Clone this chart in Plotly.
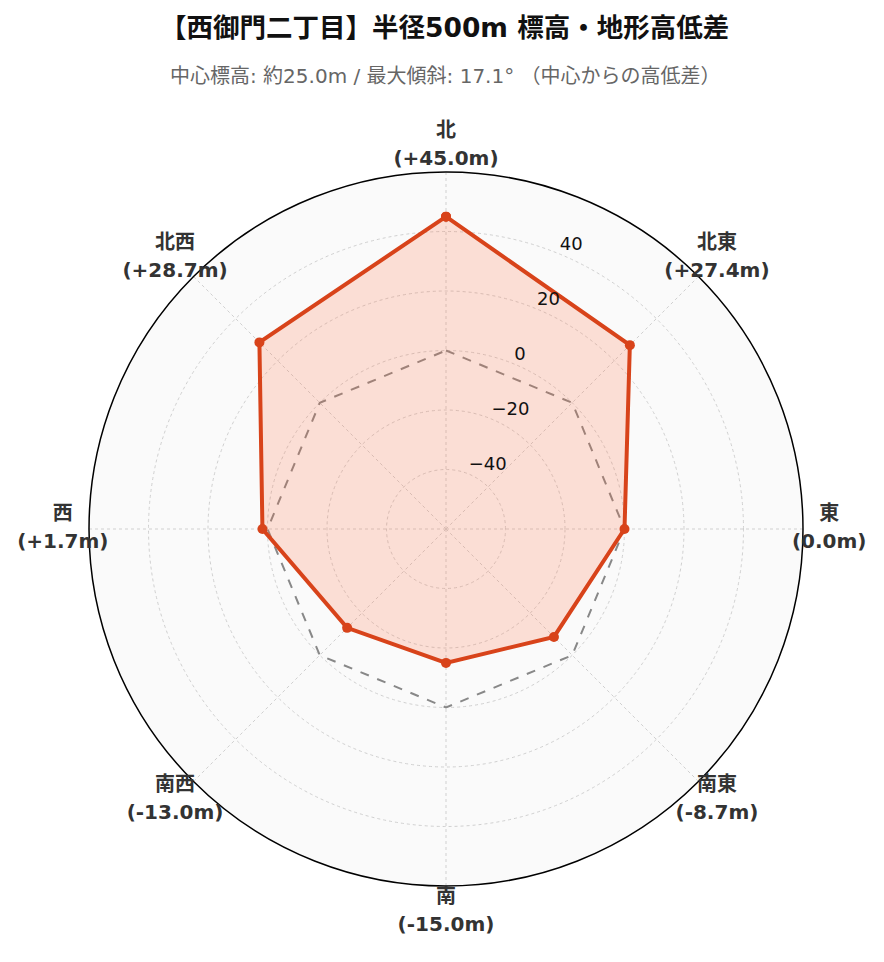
import plotly.graph_objects as go

directions = ["北", "北東", "東", "南東", "南", "南西", "西", "北西"]
angles = [0, 45, 90, 135, 180, 225, 270, 315]
elev_diff = [45.0, 27.4, 0.0, -8.7, -15.0, -13.0, 1.7, 28.7]
baseline = [0, 0, 0, 0, 0, 0, 0, 0]
radial_ticks = [-40, -20, 0, 20, 40]
radial_tick_labels = ["−40", "−20", "0", "20", "40"]
radial_range = [-60, 60]
radial_label_angle = 22.5
label_r = 68.8

def fmt(v):
    return f"+{v:.1f}m" if v > 0 else f"{v:.1f}m"

name_text = [f"<b>{d}</b>" for d in directions]
value_text = [f"<b>({fmt(v)})</b>" for v in elev_diff]

FONT = "DejaVu Sans, Noto Sans CJK JP, sans-serif"
W, H = 884, 962
CX, CY = 438, 521        # polar centre (px from top-left of the figure)
R1 = 357                 # main polar radius (px)
R2 = 400                 # outer helper polar radius for the direction labels
px_per_unit = R1 / (radial_range[1] - radial_range[0])
outer_range = [radial_range[0], radial_range[0] + R2 / px_per_unit]

def dom(r):
    return dict(x=[(CX - r) / W, (CX + r) / W],
                y=[(H - CY - r) / H, (H - CY + r) / H])

fig = go.Figure()
fig.add_trace(go.Scatterpolar(
    r=baseline + baseline[:1], theta=angles + angles[:1], mode="lines",
    line=dict(color="#888888", width=2, dash="dash"),
    hoverinfo="skip", showlegend=False,
))
fig.add_trace(go.Scatterpolar(
    r=elev_diff + elev_diff[:1], theta=angles + angles[:1], mode="lines+markers",
    fill="toself", fillcolor="rgba(255,112,67,0.2)",
    line=dict(color="#d8431a", width=4),
    marker=dict(color="#d8431a", size=10),
    showlegend=False,
))
fig.add_trace(go.Scatterpolar(
    r=radial_ticks, theta=[radial_label_angle] * len(radial_ticks),
    mode="text", text=radial_tick_labels, textposition="top right",
    textfont=dict(family="DejaVu Sans", size=18, color="#111111"),
    hoverinfo="skip", showlegend=False,
))
# direction labels, drawn on a larger transparent polar with the same scale
for txt, pos in ((name_text, "top center"), (value_text, "bottom center")):
    fig.add_trace(go.Scatterpolar(
        r=[label_r] * len(angles), theta=angles, mode="markers+text",
        subplot="polar2", text=txt, textposition=pos, cliponaxis=False,
        marker=dict(size=5, opacity=0),
        textfont=dict(family=FONT, size=20, color="#333333"),
        hoverinfo="skip", showlegend=False,
    ))

fig.update_layout(
    width=W, height=H,
    paper_bgcolor="white",
    font=dict(family=FONT),
    margin=dict(l=0, r=0, t=0, b=0),
    showlegend=False,
    polar=dict(
        domain=dom(R1),
        bgcolor="#fafafa",
        radialaxis=dict(
            range=radial_range, tickvals=radial_ticks, angle=67.5,
            showline=False, showticklabels=False,
            gridcolor="#d0d0d0", griddash="dot", gridwidth=1,
            ticks="",
        ),
        angularaxis=dict(
            direction="clockwise", rotation=90,
            tickmode="array", tickvals=angles, showticklabels=False,
            linecolor="#000000", linewidth=1.5,
            gridcolor="#d0d0d0", griddash="dot", ticks="",
        ),
    ),
    polar2=dict(
        domain=dom(R2),
        bgcolor="rgba(0,0,0,0)",
        radialaxis=dict(range=outer_range, visible=False, showgrid=False),
        angularaxis=dict(direction="clockwise", rotation=90, visible=False,
                         showgrid=False, showline=False),
    ),
)

fig.add_annotation(text="<b>【西御門二丁目】半径500m 標高・地形高低差</b>",
                   x=(CX - 2) / W, y=(H - 19) / H, xref="paper", yref="paper",
                   showarrow=False, xanchor="center", yanchor="middle",
                   font=dict(family=FONT, size=26.5, color="#111111"))
fig.add_annotation(text="中心標高: 約25.0m / 最大傾斜: 17.1° （中心からの高低差）",
                   x=(CX - 1) / W, y=(H - 68) / H, xref="paper", yref="paper",
                   showarrow=False, xanchor="center", yanchor="middle",
                   font=dict(family=FONT, size=20, color="#666666"))

fig.write_html("out.html")
